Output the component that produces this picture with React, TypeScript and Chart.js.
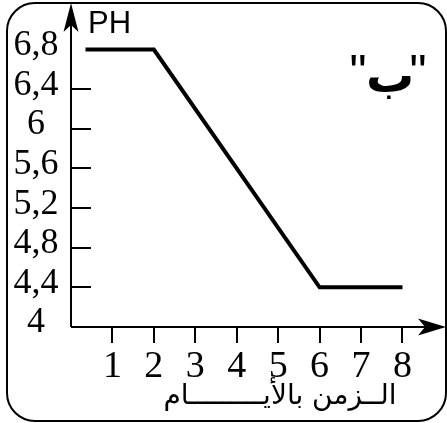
import React, { useEffect, useRef } from "react";
import { Chart, registerables } from "chart.js";

Chart.register(...registerables);

// pH of the medium against time (days)
const timeDays = [0.35, 2, 6, 8];
const phValues = [6.8, 6.8, 4.4, 4.4];

const xTickValues = [1, 2, 3, 4, 5, 6, 7, 8];
const xTickLabels = ["1", "2", "3", "4", "5", "6", "7", "8"];
const yLabelValues = [4, 4.4, 4.8, 5.2, 5.6, 6, 6.4, 6.8];
const yTickLabels = ["4", "4,4", "4,8", "5,2", "5,6", "6", "6,4", "6,8"];
const yTickMarks = [4.4, 4.8, 5.2, 5.6, 6, 6.4];

const xTitle = "الــزمن بالأيـــــــــام";
const yTitle = "PH";
const panelLetter = "ب";

const X_MIN = 0;
const X_MAX = 9.05;
const Y_MIN = 4;
const Y_MAX = 7.27;

const SERIF = "'Liberation Serif', 'Times New Roman', serif";
const SANS = "'Liberation Sans', Arial, sans-serif";
const ARABIC = "'DejaVu Sans', sans-serif";

function arrowHead(
  ctx: CanvasRenderingContext2D,
  tipX: number,
  tipY: number,
  dirX: number,
  dirY: number,
  len: number,
  half: number,
  notch: number
) {
  const px = -dirY;
  const py = dirX;
  const bx = tipX - dirX * len;
  const by = tipY - dirY * len;
  const nx = tipX - dirX * (len - notch);
  const ny = tipY - dirY * (len - notch);
  ctx.beginPath();
  ctx.moveTo(tipX, tipY);
  ctx.lineTo(bx + px * half, by + py * half);
  ctx.lineTo(nx, ny);
  ctx.lineTo(bx - px * half, by - py * half);
  ctx.closePath();
  ctx.fill();
}

const framePlugin = {
  id: "phFrame",
  beforeDatasetsDraw(chart: any) {
    const ctx: CanvasRenderingContext2D = chart.ctx;
    const xs = chart.scales.x;
    const ys = chart.scales.y;
    const x0 = xs.getPixelForValue(X_MIN);
    const xEnd = xs.getPixelForValue(X_MAX);
    const y0 = ys.getPixelForValue(Y_MIN);
    const yEnd = ys.getPixelForValue(Y_MAX);

    ctx.save();
    ctx.fillStyle = "#fff";
    ctx.fillRect(0, 0, chart.width, chart.height);

    // rounded outer frame
    ctx.strokeStyle = "#000";
    ctx.lineWidth = 2;
    ctx.beginPath();
    (ctx as any).roundRect(7, 3, 439, 418, 28);
    ctx.stroke();

    // axes with arrowheads
    ctx.beginPath();
    ctx.moveTo(x0, y0);
    ctx.lineTo(x0, yEnd + 10);
    ctx.moveTo(x0, y0);
    ctx.lineTo(xEnd - 10, y0);
    ctx.stroke();
    ctx.fillStyle = "#000";
    arrowHead(ctx, x0, yEnd, 0, -1, 29, 7.5, 7);
    arrowHead(ctx, xEnd, y0, 1, 0, 28, 8.5, 7);

    // y tick marks (inward) and x tick marks (outward)
    ctx.beginPath();
    yTickMarks.forEach((v) => {
      const y = Math.round(ys.getPixelForValue(v));
      ctx.moveTo(x0, y);
      ctx.lineTo(x0 + 20, y);
    });
    xTickValues.forEach((v) => {
      const x = Math.round(xs.getPixelForValue(v));
      ctx.moveTo(x, y0);
      ctx.lineTo(x, y0 + 16);
    });
    ctx.stroke();

    // y labels
    ctx.font = `36px ${SERIF}`;
    ctx.textAlign = "center";
    ctx.textBaseline = "middle";
    yLabelValues.forEach((v, i) => {
      ctx.fillText(yTickLabels[i], 36, ys.getPixelForValue(v) - 4);
    });

    // x labels
    ctx.font = `38px ${SERIF}`;
    xTickValues.forEach((v, i) => {
      ctx.fillText(xTickLabels[i], xs.getPixelForValue(v), y0 + 40);
    });

    // axis titles
    ctx.textBaseline = "alphabetic";
    ctx.font = `31px ${SANS}`;
    ctx.textAlign = "left";
    ctx.fillText(yTitle, x0 + 17, 33);

    ctx.font = `28px ${ARABIC}`;
    ctx.textAlign = "center";
    (ctx as any).direction = "rtl";
    ctx.fillText(xTitle, 280, 404);

    // panel label "ب"
    ctx.font = `bold 48px ${ARABIC}`;
    ctx.fillText(panelLetter, 390, 92);
    ctx.font = `48px ${SANS}`;
    (ctx as any).direction = "ltr";
    ctx.fillText("\"", 358, 88);
    ctx.fillText("\"", 418, 88);
    ctx.restore();
  },
};

export default function App() {
  const canvasRef = useRef<HTMLCanvasElement | null>(null);

  useEffect(() => {
    const canvas = canvasRef.current;
    if (!canvas) return;
    const chart = new Chart(canvas, {
      type: "line",
      data: {
        datasets: [
          {
            data: timeDays.map((x, i) => ({ x, y: phValues[i] })),
            borderColor: "#000",
            borderWidth: 4,
            pointRadius: 0,
            tension: 0,
            fill: false,
            borderJoinStyle: "miter",
          },
        ],
      },
      options: {
        animation: false,
        responsive: false,
        devicePixelRatio: 1,
        events: [],
        layout: { padding: { left: 71, right: 1, top: 3, bottom: 96 } },
        scales: {
          x: { type: "linear", min: X_MIN, max: X_MAX, display: false },
          y: { type: "linear", min: Y_MIN, max: Y_MAX, display: false },
        },
        plugins: {
          legend: { display: false },
          tooltip: { enabled: false },
        },
      },
      plugins: [framePlugin],
    });
    return () => chart.destroy();
  }, []);

  return (
    <div style={{ position: "fixed", left: 0, top: 0, width: 447, height: 423, background: "#fff" }}>
      <canvas ref={canvasRef} width={447} height={423} style={{ display: "block" }} />
    </div>
  );
}
